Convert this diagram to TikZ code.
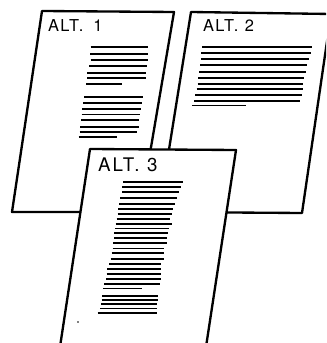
\documentclass[tikz,border=0pt]{standalone}
\usepackage{fontspec}
\setmainfont{TeX Gyre Heros}

\begin{document}
\begin{tikzpicture}[x=0.03cm, y=-0.03cm,
    page/.style={draw=black, fill=white, line width=0.7mm, line join=round},
    textline/.style={line width=0.55mm},
    altlabel/.style={anchor=base west, inner sep=0pt,
        font=\fontsize{14}{16}\selectfont\addfontfeature{LetterSpace=8}}]
		%%%%% START %%%%%
		\useasboundingbox (0,0) rectangle (326,343);
		\clip (0,0) rectangle (326,343);
		
		% sheet ALT. 1
		\draw[page] (42,11) -- (174,12) -- (140,212) -- (12,212) -- cycle;
		\node[altlabel] (alt1) at (48,32) {ALT.\hspace{0.6em}1};
		\foreach \y/\a/\b in {47.3/90.7/148, 54/90/148, 60/90.7/147.7, 66/89.3/147.3,
		    72.7/87.3/146, 78.3/87.3/146, 84.3/86/122.3,
		    97.3/84/143, 103/83.3/141.7, 109/82/140.7, 114.5/81.7/140.3,
		    120.3/81/139.3, 126.7/80/139, 132/79.5/137.3, 137.3/78.5/116.7}
		    \draw[textline] (\a,\y) -- (\b,\y);
		
		% sheet ALT. 2
		\draw[page] (191,12) -- (331,14) -- (302,213) -- (159,212) -- cycle;
		\node[altlabel] (alt2) at (203,32) {ALT.\hspace{0.4em}2};
		\foreach \y/\a/\b in {47.3/202.3/312.3, 52.7/201/311, 59/201/309, 65/200/306.7,
		    71.7/199.3/305.7, 77.7/198.3/304.3, 84/197.7/303.3, 89.3/196.7/303.3,
		    95/195/302.3, 100.7/194.3/300, 105.5/192.3/246}
		    \draw[textline] (\a,\y) -- (\b,\y);
		
		% sheet ALT. 3
		\draw[page] (90,149) -- (236,150) -- (204,360) -- (58,360) -- cycle;
		\node[altlabel, font=\fontsize{16}{18}\selectfont\addfontfeature{LetterSpace=10}] (alt3) at (98,172) {ALT.\hspace{0.4em}3};
		\foreach \y/\a/\b in {182.3/123.3/182.7, 187.3/122.3/181, 192.3/122.3/179.3,
		    198.3/120/177.3, 203.7/119.3/175, 209/118.3/173.3, 214.3/117.7/171.7,
		    219.3/116.7/170, 224/115.7/172.3, 228.5/115/169, 233.3/114.3/168.3,
		    238.3/114/167.3, 243.3/113.3/166.7, 248.5/112.7/164, 253.3/111.7/164,
		    259.3/110.7/164.3, 264.3/109.3/161, 269.3/107.3/161, 274.3/106.7/161,
		    279.3/106/161, 284/104.3/160, 288.5/103.3/141.7,
		    296/102.3/157.7, 300/101.7/157.7, 304.3/101/157.3, 308.5/100/156.7,
		    312.7/97.7/156.7}
		    \draw[textline] (\a,\y) -- (\b,\y);
		
		\fill (78,322) circle (0.8);
		%%%%% END %%%%%
\end{tikzpicture}
\end{document}
